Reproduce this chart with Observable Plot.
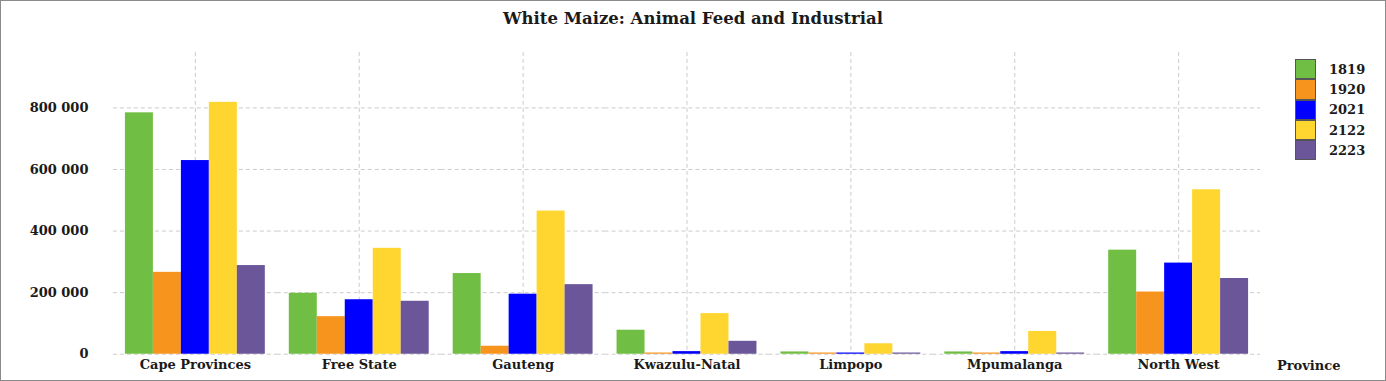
<!DOCTYPE html>
<html><head><meta charset="utf-8">
<script src="https://cdn.jsdelivr.net/npm/d3@7"></script>
<script src="https://cdn.jsdelivr.net/npm/@observablehq/plot@0.6"></script>
<style>
body{margin:0;background:#fff;}
#wrap{position:relative;width:1386px;height:381px;box-sizing:border-box;border:1px solid #8a8a8a;font-family:"DejaVu Serif",serif;font-weight:bold;color:#1a1a1a;overflow:hidden;background:#fff}
#title{position:absolute;top:8px;left:-1px;width:1386px;text-align:center;font-size:16.5px;}
#chart{position:absolute;left:-1px;top:-1px;}
#legend{position:absolute;left:1294px;top:58px;font-size:13px}
.row{display:flex;align-items:center;height:20.3px}
.sw{width:21px;height:20.3px;box-sizing:border-box;border:1px solid #555;margin-right:13px}
#xlabel{position:absolute;left:1276px;top:357px;font-size:13px}
</style></head>
<body>
<div id="wrap">
  <div id="chart"></div>
  <div id="title"></div>
  <div id="legend"></div>
  <div id="xlabel"></div>
</div>
<script>
const titleText = "White Maize: Animal Feed and Industrial";
const xLabel = "Province";
const provinces = ["Cape Provinces","Free State","Gauteng","Kwazulu-Natal","Limpopo","Mpumalanga","North West"];
const years = ["1819","1920","2021","2122","2223"];
const colors = ["#70bf44","#f7941d","#0000ff","#ffd52f","#6a5699"];
const v1819 = [784000, 198000, 262000, 78000, 7500, 7500, 338000];
const v1920 = [266000, 122000, 26000, 4000, 4000, 4000, 202000];
const v2021 = [629000, 177000, 195000, 8500, 4000, 8500, 296000];
const v2122 = [818000, 344000, 465000, 132000, 34000, 74000, 534000];
const v2223 = [288000, 172000, 226000, 42000, 4000, 4000, 246000];
const yTicks = [0, 200000, 400000, 600000, 800000];

const series = [v1819, v1920, v2021, v2122, v2223];
const data = provinces.flatMap((p, i) => years.map((y, j) => ({province: p, year: y, value: series[j][i]})));
const fmt = d => d3.format(",")(d).replace(/,/g, " ");

const gridStyle = {stroke: "#cccccc", strokeOpacity: 1, strokeDasharray: "4,3"};
const chart = Plot.plot({
  width: 1386, height: 381,
  marginTop: 52, marginBottom: 27, marginLeft: 111, marginRight: 123,
  style: {fontFamily: "DejaVu Serif, serif", fontWeight: "bold", fontSize: "13px", color: "#1a1a1a", background: "transparent"},
  fx: {domain: provinces, padding: 0, label: null},
  x: {domain: years, axis: null, paddingInner: 0, paddingOuter: 0.39},
  y: {domain: [0, 980000]},
  color: {domain: years, range: colors},
  marks: [
    Plot.gridY(yTicks, gridStyle),
    Plot.gridFx(gridStyle),
    Plot.barY(data, {fx: "province", x: "year", y: "value", fill: "year"}),
    Plot.axisY(yTicks, {tickSize: 0, tickPadding: 25, tickFormat: fmt, label: null}),
    Plot.axisFx({anchor: "bottom", tickSize: 0, tickPadding: 6, label: null})
  ]
});
document.getElementById("chart").appendChild(chart);
document.getElementById("title").textContent = titleText;
document.getElementById("xlabel").textContent = xLabel;
const leg = d3.select("#legend");
years.forEach((y, i) => {
  const r = leg.append("div").attr("class", "row");
  r.append("div").attr("class", "sw").style("background", colors[i]);
  r.append("span").text(y);
});
</script>
</body></html>
